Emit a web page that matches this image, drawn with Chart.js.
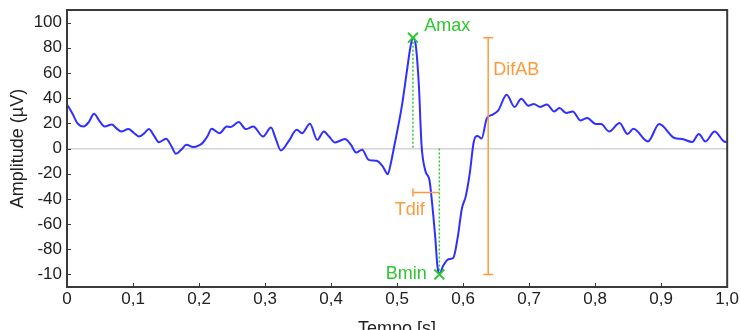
<!DOCTYPE html>
<html>
<head>
<meta charset="utf-8">
<script src="https://cdn.jsdelivr.net/npm/chart.js@4"></script>
<style>
  html, body { margin: 0; padding: 0; background: #fff; overflow: hidden; }
  #wrap { width: 741px; height: 340px; }
</style>
</head>
<body>
<div id="wrap"><canvas id="ampChart" width="741" height="340"></canvas></div>
<script>
// sinal (tempo em s, amplitude em µV)
const timeS = [
  0.000, 0.008, 0.016, 0.025, 0.033, 0.041, 0.049, 0.057, 0.068, 0.075,
  0.082, 0.093, 0.101, 0.109, 0.117, 0.124, 0.132, 0.139, 0.150, 0.158,
  0.165, 0.173, 0.181, 0.191, 0.200, 0.206, 0.213, 0.219, 0.231, 0.242,
  0.248, 0.260, 0.271, 0.282, 0.297, 0.309, 0.316, 0.324, 0.336, 0.348,
  0.356, 0.368, 0.379, 0.389, 0.397, 0.406, 0.421, 0.430, 0.438, 0.447,
  0.457, 0.469, 0.478, 0.486, 0.490, 0.495, 0.507, 0.515, 0.520, 0.524,
  0.528, 0.533, 0.537, 0.543, 0.549, 0.552, 0.558, 0.561, 0.564, 0.570,
  0.578, 0.585, 0.592, 0.598, 0.604, 0.610, 0.616, 0.622, 0.628, 0.636,
  0.645, 0.653, 0.666, 0.678, 0.688, 0.699, 0.707, 0.717, 0.727, 0.738,
  0.746, 0.756, 0.766, 0.778, 0.788, 0.801, 0.809, 0.821, 0.837, 0.849,
  0.858, 0.880, 0.897, 0.920, 0.932, 0.947, 0.957, 0.967, 0.981, 0.995,
  1.000
];
const amplitudeUV = [
  35, 28, 20, 17.5, 21, 27.6, 22, 17.5, 19, 16,
  13.5, 15.4, 12.5, 9.5, 12, 15.4, 10, 5, 7.7, 2,
  -4.2, -1, 2.9, 1.1, 2.5, 4.8, 10, 15.7, 12.2, 17.5,
  17, 21, 15.4, 17.5, 9.5, 16.7, 8, -1.6, 6, 14.9,
  12.2, 19.7, 6.9, 13.5, 9.5, 4.8, 7.5, 3, -3.2, -1,
  -9, -9.8, -14, -20.4, -13, 0, 33, 62, 80, 88,
  83, 50, 3, -18, -25, -38, -72, -93, -100, -93,
  -88, -87, -70, -48, -38, -20, 5, 10, 8, 24,
  27, 30, 42.7, 33, 39.5, 34, 35.3, 33, 35, 29.4,
  32.1, 28.2, 29.4, 22.3, 24.2, 19.4, 19.4, 13.5, 20.2, 11.5,
  15.7, 5.6, 19.4, 8.3, 7.5, 5.1, 11.5, 5.6, 13.5, 5.6,
  5
];

// eixos
const xTickValues = [0, 0.1, 0.2, 0.3, 0.4, 0.5, 0.6, 0.7, 0.8, 0.9, 1.0];
const xTickLabels = ["0", "0,1", "0,2", "0,3", "0,4", "0,5", "0,6", "0,7", "0,8", "0,9", "1,0"];
const yTickValues = [100, 80, 60, 40, 20, 0, -20, -40, -60, -80, -100];
const yTickLabels = ["100", "80", "60", "40", "20", "0", "-20", "-40", "-60", "-80", "-10"];

// marcadores Amax / Bmin
const peakTimes = [0.524, 0.564];
const peakValues = [88, -100];

// medidas
const difABTimes = [0.638, 0.638];
const difABValues = [88, -100];
const tdifTimes = [0.524, 0.564];
const tdifValues = [-35, -35];

// rótulos
const noteTexts = ["Amax", "Bmin", "Tdif", "DifAB"];
const noteTimes = [0.541, 0.545, 0.519, 0.6456];
const noteValues = [97, -100, -49, 62];

const GREEN = "#2ec72e";
const ORANGE = "#ff9a3c";
const BLUE = "#2f2fff";
const FONT = "'Liberation Sans', Arial, sans-serif";

function pts(xs, ys) {
  return xs.map(function (x, i) { return { x: x, y: ys[i] }; });
}

// moldura + marcas internas dos eixos
const framePlugin = {
  id: "frame",
  afterDraw: function (chart) {
    const ctx = chart.ctx;
    const a = chart.chartArea;
    const xs = chart.scales.x;
    const ys = chart.scales.y;
    ctx.save();
    ctx.strokeStyle = "#3a3a3a";
    ctx.lineWidth = 1;
    xTickValues.forEach(function (v) {
      const px = Math.round(xs.getPixelForValue(v)) + 0.5;
      ctx.beginPath();
      ctx.moveTo(px, a.bottom);
      ctx.lineTo(px, a.bottom - 4);
      ctx.stroke();
    });
    yTickValues.forEach(function (v) {
      const py = Math.round(ys.getPixelForValue(v)) + 0.5;
      ctx.beginPath();
      ctx.moveTo(a.left, py);
      ctx.lineTo(a.left + 4, py);
      ctx.stroke();
    });
    ctx.lineWidth = 2;
    ctx.strokeRect(a.left, a.top, a.right - a.left, a.bottom - a.top);
    ctx.restore();
  }
};

// textos das anotações
const notesPlugin = {
  id: "notes",
  afterDatasetsDraw: function (chart) {
    const ctx = chart.ctx;
    const xs = chart.scales.x;
    const ys = chart.scales.y;
    const aligns = ["left", "right", "center", "left"];
    const colors = [GREEN, GREEN, ORANGE, ORANGE];
    ctx.save();
    ctx.font = "18px " + FONT;
    ctx.textBaseline = "middle";
    noteTexts.forEach(function (t, i) {
      ctx.fillStyle = colors[i];
      ctx.textAlign = aligns[i];
      ctx.fillText(t, xs.getPixelForValue(noteTimes[i]), ys.getPixelForValue(noteValues[i]));
    });
    ctx.restore();
  }
};

document.addEventListener("DOMContentLoaded", function () {
  const el = document.getElementById("ampChart");

  new Chart(el, {
    type: "line",
    data: {
      datasets: [
        {
          data: pts(timeS, amplitudeUV),
          borderColor: BLUE,
          borderWidth: 2,
          pointRadius: 0,
          cubicInterpolationMode: "monotone",
          order: 5
        },
        {
          // guia Amax
          data: pts([peakTimes[0], peakTimes[0]], [peakValues[0], 0]),
          borderColor: GREEN,
          borderWidth: 1.5,
          borderDash: [2, 2],
          pointRadius: 0,
          order: 6
        },
        {
          // guia Bmin
          data: pts([peakTimes[1], peakTimes[1]], [0, peakValues[1]]),
          borderColor: GREEN,
          borderWidth: 1.5,
          borderDash: [2, 2],
          pointRadius: 0,
          order: 6
        },
        {
          data: pts(difABTimes, difABValues),
          borderColor: ORANGE,
          borderWidth: 1.5,
          pointStyle: "line",
          pointRadius: 5,
          pointBorderWidth: 1.5,
          pointBorderColor: ORANGE,
          order: 4
        },
        {
          data: pts(tdifTimes, tdifValues),
          borderColor: ORANGE,
          borderWidth: 1.5,
          pointStyle: "line",
          pointRotation: 90,
          pointRadius: [4, 0],
          pointBorderWidth: 1.5,
          pointBorderColor: ORANGE,
          order: 4
        },
        {
          data: pts(peakTimes, peakValues),
          showLine: false,
          pointStyle: "crossRot",
          pointRadius: 7,
          pointBorderWidth: 2,
          pointBorderColor: GREEN,
          order: 1
        }
      ]
    },
    options: {
      responsive: false,
      animation: false,
      events: [],
      layout: { padding: { left: 0, top: 10, right: 13, bottom: 0 } },
      plugins: {
        legend: { display: false },
        tooltip: { enabled: false }
      },
      scales: {
        x: {
          type: "linear",
          min: 0,
          max: 1,
          afterFit: function (s) { s.height = 53; },
          afterBuildTicks: function (s) {
            s.ticks = xTickValues.map(function (v) { return { value: v }; });
          },
          ticks: {
            padding: 2,
            color: "#222",
            font: { family: FONT, size: 17 },
            maxRotation: 0,
            autoSkip: false,
            callback: function (v) {
              const i = xTickValues.findIndex(function (t) { return Math.abs(t - v) < 1e-6; });
              return i >= 0 ? xTickLabels[i] : "";
            }
          },
          grid: { display: false, drawTicks: false },
          border: { display: false },
          title: {
            display: true,
            text: "Tempo [s]",
            color: "#222",
            font: { family: FONT, size: 18 },
            padding: { top: 8, bottom: 0 }
          }
        },
        y: {
          type: "linear",
          min: -110,
          max: 110,
          afterFit: function (s) {
            s.width = 67;
            s.paddingTop = 0;
            s.paddingBottom = 0;
          },
          afterBuildTicks: function (s) {
            s.ticks = yTickValues.map(function (v) { return { value: v }; });
          },
          ticks: {
            padding: 5,
            color: "#222",
            font: { family: FONT, size: 17 },
            autoSkip: false,
            callback: function (v) {
              const i = yTickValues.indexOf(v);
              return i >= 0 ? yTickLabels[i] : "";
            }
          },
          grid: {
            drawTicks: false,
            lineWidth: 1.5,
            color: function (c) {
              return c.tick && c.tick.value === 0 ? "#d4d4d4" : "rgba(0,0,0,0)";
            }
          },
          border: { display: false },
          title: {
            display: true,
            text: "Amplitude (µV)",
            color: "#222",
            font: { family: FONT, size: 18 },
            padding: { top: 7, bottom: 0 }
          }
        }
      }
    },
    plugins: [framePlugin, notesPlugin]
  });
});
</script>
</body>
</html>
